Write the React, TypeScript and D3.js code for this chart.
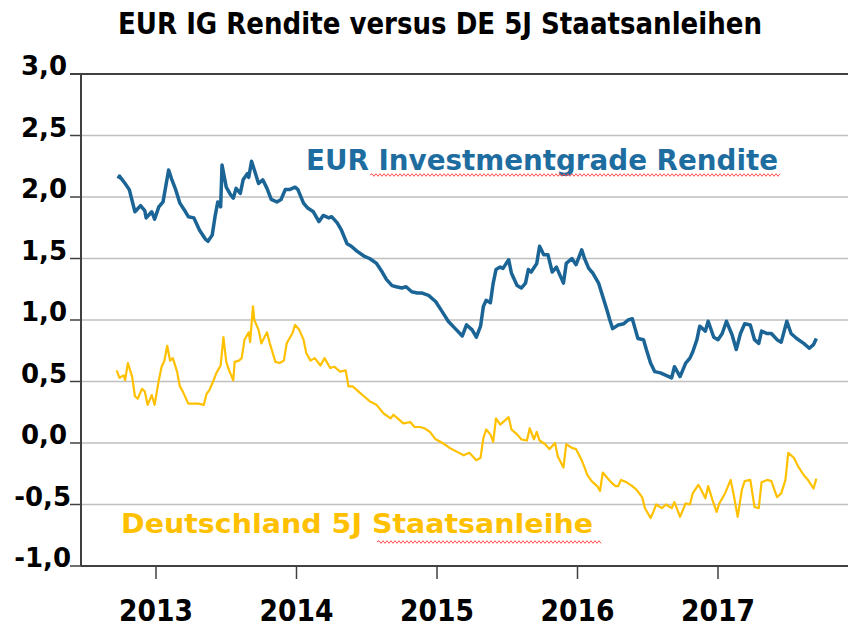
import React from "react";
import * as d3 from "d3";

// ---- Data (decimal years, yields in %) ----
const igDates = [2012.73,2012.74,2012.78,2012.81,2012.85,2012.89,2012.92,2012.93,2012.97,2012.99,2013.02,2013.05,2013.09,2013.11,2013.14,2013.17,2013.21,2013.23,2013.27,2013.31,2013.35,2013.37,2013.40,2013.42,2013.44,2013.46,2013.47,2013.50,2013.53,2013.55,2013.57,2013.60,2013.62,2013.65,2013.66,2013.68,2013.70,2013.73,2013.76,2013.79,2013.82,2013.86,2013.89,2013.92,2013.95,2013.99,2014.01,2014.05,2014.08,2014.12,2014.16,2014.19,2014.23,2014.25,2014.29,2014.32,2014.36,2014.39,2014.43,2014.48,2014.52,2014.57,2014.61,2014.64,2014.68,2014.71,2014.75,2014.78,2014.82,2014.86,2014.89,2014.94,2014.99,2015.03,2015.08,2015.13,2015.18,2015.21,2015.25,2015.28,2015.31,2015.33,2015.35,2015.38,2015.40,2015.42,2015.45,2015.47,2015.51,2015.53,2015.57,2015.60,2015.63,2015.65,2015.67,2015.71,2015.73,2015.76,2015.79,2015.82,2015.85,2015.90,2015.92,2015.96,2015.99,2016.03,2016.05,2016.08,2016.11,2016.15,2016.18,2016.21,2016.23,2016.25,2016.29,2016.33,2016.36,2016.39,2016.41,2016.43,2016.47,2016.49,2016.52,2016.55,2016.59,2016.63,2016.67,2016.69,2016.73,2016.77,2016.80,2016.82,2016.85,2016.87,2016.91,2016.93,2016.97,2017.00,2017.03,2017.06,2017.10,2017.13,2017.16,2017.19,2017.23,2017.26,2017.29,2017.31,2017.35,2017.38,2017.42,2017.45,2017.49,2017.52,2017.56,2017.61,2017.65,2017.68,2017.70];
const igValues = [2.15,2.17,2.11,2.06,1.88,1.93,1.89,1.83,1.88,1.82,1.92,1.96,2.22,2.15,2.06,1.95,1.88,1.84,1.83,1.73,1.66,1.64,1.69,1.84,1.96,1.92,2.26,2.08,2.02,1.99,2.07,2.03,2.14,2.19,2.16,2.29,2.22,2.11,2.14,2.07,1.98,1.96,1.98,2.06,2.06,2.08,2.06,1.95,1.91,1.88,1.80,1.85,1.83,1.84,1.79,1.73,1.62,1.60,1.56,1.52,1.50,1.46,1.39,1.33,1.28,1.27,1.26,1.27,1.23,1.22,1.22,1.20,1.15,1.08,0.99,0.93,0.87,0.96,0.92,0.86,0.95,1.11,1.16,1.14,1.30,1.41,1.43,1.42,1.49,1.38,1.28,1.26,1.30,1.41,1.39,1.46,1.60,1.53,1.53,1.39,1.43,1.30,1.46,1.50,1.45,1.57,1.50,1.42,1.38,1.30,1.19,1.08,1.00,0.93,0.96,0.97,1.00,1.01,0.93,0.85,0.84,0.76,0.65,0.58,0.57,0.55,0.53,0.62,0.54,0.65,0.69,0.74,0.84,0.95,0.91,0.99,0.86,0.84,0.89,0.99,0.88,0.76,0.89,0.97,0.96,0.84,0.81,0.91,0.89,0.89,0.84,0.82,0.99,0.89,0.85,0.81,0.77,0.80,0.85];

const bundDates = [2012.72,2012.74,2012.77,2012.78,2012.80,2012.83,2012.85,2012.87,2012.90,2012.92,2012.94,2012.97,2012.99,2013.02,2013.04,2013.06,2013.08,2013.10,2013.12,2013.15,2013.17,2013.19,2013.23,2013.27,2013.30,2013.34,2013.36,2013.38,2013.41,2013.43,2013.46,2013.48,2013.50,2013.52,2013.55,2013.56,2013.59,2013.61,2013.63,2013.66,2013.67,2013.69,2013.70,2013.73,2013.75,2013.79,2013.81,2013.85,2013.88,2013.91,2013.93,2013.97,2013.99,2014.02,2014.05,2014.07,2014.10,2014.13,2014.17,2014.20,2014.24,2014.27,2014.31,2014.35,2014.37,2014.40,2014.44,2014.48,2014.52,2014.57,2014.62,2014.67,2014.69,2014.72,2014.76,2014.81,2014.84,2014.88,2014.91,2014.95,2014.99,2015.04,2015.09,2015.14,2015.19,2015.23,2015.28,2015.31,2015.33,2015.35,2015.38,2015.40,2015.42,2015.45,2015.47,2015.51,2015.53,2015.57,2015.60,2015.64,2015.66,2015.69,2015.71,2015.73,2015.77,2015.80,2015.84,2015.86,2015.90,2015.92,2015.96,2015.99,2016.03,2016.07,2016.10,2016.14,2016.16,2016.18,2016.21,2016.24,2016.27,2016.29,2016.31,2016.35,2016.39,2016.42,2016.46,2016.48,2016.52,2016.54,2016.56,2016.60,2016.63,2016.67,2016.69,2016.73,2016.77,2016.80,2016.82,2016.86,2016.88,2016.91,2016.93,2016.96,2016.99,2017.01,2017.05,2017.09,2017.11,2017.14,2017.17,2017.19,2017.23,2017.26,2017.29,2017.31,2017.35,2017.38,2017.42,2017.45,2017.48,2017.50,2017.54,2017.57,2017.61,2017.64,2017.68,2017.70];
const bundValues = [0.59,0.53,0.55,0.51,0.65,0.54,0.38,0.36,0.44,0.42,0.31,0.39,0.31,0.51,0.62,0.67,0.79,0.67,0.69,0.58,0.46,0.42,0.32,0.32,0.32,0.31,0.40,0.43,0.51,0.57,0.63,0.86,0.66,0.59,0.51,0.66,0.67,0.69,0.84,0.90,0.82,1.11,1.00,0.92,0.81,0.90,0.81,0.66,0.65,0.67,0.81,0.89,0.96,0.92,0.84,0.73,0.67,0.69,0.63,0.69,0.61,0.62,0.58,0.59,0.46,0.46,0.42,0.38,0.34,0.31,0.24,0.20,0.23,0.20,0.16,0.17,0.13,0.13,0.12,0.09,0.03,0.00,-0.04,-0.07,-0.10,-0.08,-0.14,-0.12,0.04,0.11,0.07,0.01,0.20,0.15,0.17,0.21,0.11,0.07,0.03,0.02,0.12,0.03,0.09,0.02,-0.01,-0.05,0.00,-0.11,-0.20,-0.01,-0.04,-0.05,-0.14,-0.26,-0.31,-0.35,-0.39,-0.24,-0.28,-0.32,-0.35,-0.35,-0.30,-0.32,-0.35,-0.38,-0.44,-0.53,-0.61,-0.56,-0.50,-0.53,-0.50,-0.53,-0.48,-0.60,-0.49,-0.50,-0.41,-0.34,-0.38,-0.45,-0.35,-0.46,-0.56,-0.49,-0.41,-0.30,-0.41,-0.60,-0.38,-0.31,-0.30,-0.52,-0.53,-0.32,-0.30,-0.31,-0.44,-0.41,-0.30,-0.08,-0.12,-0.19,-0.26,-0.30,-0.37,-0.29];

const yTicks = [3.0, 2.5, 2.0, 1.5, 1.0, 0.5, 0.0, -0.5, -1.0];
const xTicks = [2013, 2014, 2015, 2016, 2017];

const title = "EUR IG Rendite versus DE 5J Staatsanleihen";
const igLabel = "EUR Investmentgrade Rendite";
const bundLabel = "Deutschland 5J Staatsanleihe";

const W = 848, H = 627;
const left = 81, right = 848, top = 74, bottom = 566;

const x = d3.scaleLinear().domain([2013 - 75 / 140.5, 2017 + 130 / 140.5]).range([left, right]);
const y = d3.scaleLinear().domain([-1, 3]).range([bottom, top]);

const line = d3.line<[number, number]>().x(d => x(d[0])).y(d => y(d[1])).curve(d3.curveLinear);

function wavy(x0: number, x1: number, yy: number) {
  const p = d3.path();
  const step = 2;
  let up = true;
  p.moveTo(x0, yy);
  for (let xx = x0 + step; xx <= x1; xx += step) {
    p.lineTo(xx, yy + (up ? -1.3 : 1.3));
    up = !up;
  }
  return p.toString();
}

const fmt = (v: number) => d3.format(".1f")(v).replace(".", ",").replace("\u2212", "-");

export default function App() {
  const igData = igDates.map((d, i) => [d, igValues[i]] as [number, number]);
  const bundData = bundDates.map((d, i) => [d, bundValues[i]] as [number, number]);
  return (
    <div style={{ position: "absolute", left: 0, top: 0 }}>
      <svg width={W} height={H} style={{ display: "block", background: "#fff" }}>
        <text x={118} y={34} fontFamily="'Liberation Sans Narrow', 'DejaVu Sans Condensed', Roboto, sans-serif" fontWeight="bold" fontSize={30} textLength={644} lengthAdjust="spacingAndGlyphs" fill="#000">{title}</text>
        {yTicks.map(t => (
          <g key={t}>
            {t !== 3 && t !== -1 && <line x1={left} x2={right} y1={y(t)} y2={y(t)} stroke="#BFBFBF" strokeWidth={1.5} />}
            <line x1={70} x2={left} y1={y(t)} y2={y(t)} stroke="#404040" strokeWidth={1.5} />
            <text x={t < 0 ? 71 : 67} y={y(t) + 1} textAnchor="end" fontFamily="'DejaVu Sans', sans-serif" fontWeight="bold" fontSize={26} fill="#000">{fmt(t)}</text>
          </g>
        ))}
        <line x1={70} x2={right} y1={top} y2={top} stroke="#404040" strokeWidth={2} />
        <line x1={left} x2={right} y1={bottom} y2={bottom} stroke="#404040" strokeWidth={2} />
        <line x1={left} x2={left} y1={top} y2={bottom} stroke="#404040" strokeWidth={2} />
        {xTicks.map(t => (
          <g key={t}>
            <line x1={x(t)} x2={x(t)} y1={bottom} y2={bottom + 13} stroke="#404040" strokeWidth={1.5} />
            <text x={x(t) - 37} y={621} fontFamily="'Liberation Sans Narrow', 'DejaVu Sans Condensed', Roboto, sans-serif" fontWeight="bold" fontSize={31} textLength={74} lengthAdjust="spacingAndGlyphs" fill="#000">{String(t)}</text>
          </g>
        ))}
        <path d={line(bundData) || ""} fill="none" stroke="#FFC000" strokeWidth={2.2} strokeLinejoin="round" />
        <path d={line(igData) || ""} fill="none" stroke="#1A6496" strokeWidth={3.5} strokeLinejoin="round" />
        <text x={306} y={170} fontFamily="'DejaVu Sans', sans-serif" fontWeight={600} fontSize={28} textLength={472} lengthAdjust="spacingAndGlyphs" fill="#1E6DA0">{igLabel}</text>
        <path d={wavy(370, 780, 175)} fill="none" stroke="#FF4D4D" strokeWidth={1} />
        <text x={121} y={533} fontFamily="'DejaVu Sans', sans-serif" fontWeight={600} fontSize={26} textLength={472} lengthAdjust="spacingAndGlyphs" fill="#FFC000">{bundLabel}</text>
        <path d={wavy(377, 601, 542)} fill="none" stroke="#FF4D4D" strokeWidth={1} />
      </svg>
    </div>
  );
}
